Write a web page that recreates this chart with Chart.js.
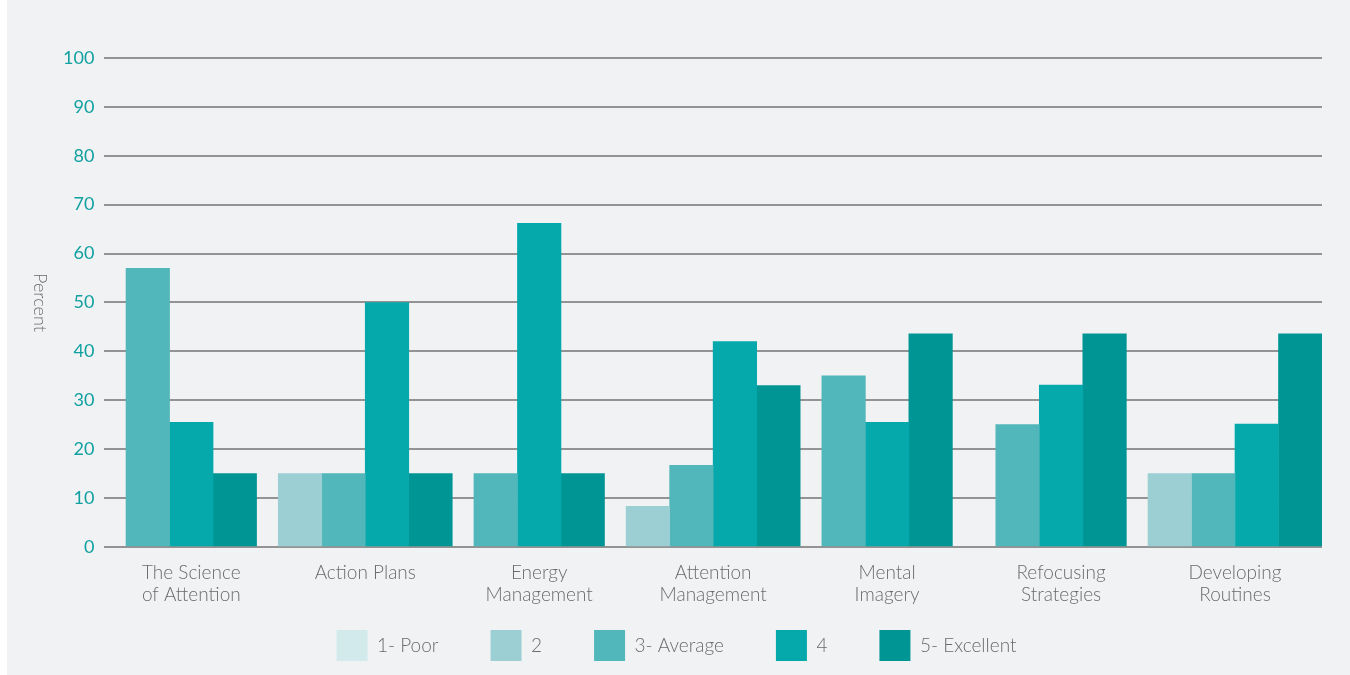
<!DOCTYPE html>
<html>
<head>
<meta charset="utf-8">
<script src="https://cdn.jsdelivr.net/npm/chart.js@4/dist/chart.umd.min.js"></script>
<style>
  html, body { margin: 0; padding: 0; background: #ffffff; }
  #wrap { position: absolute; left: 7px; top: 0; width: 1343px; height: 675px; background: #f1f2f4; }
</style>
</head>
<body>
<div id="wrap"><canvas id="chart"></canvas></div>
<script>
// categories and series (percent of responses, empty = no responses)
const categories = [
    ['The Science', 'of Attention'],
    'Action Plans',
    ['Energy', 'Management'],
    ['Attention', 'Management'],
    ['Mental', 'Imagery'],
    ['Refocusing', 'Strategies'],
    ['Developing', 'Routines']
];
const poor      = [null, null, null, null, null, null, null];
const two       = [null, 15, null, 8.3, null, null, 15];
const average   = [57, 15, 15, 16.7, 35, 25, 15];
const four      = [25.5, 50, 66.2, 42, 25.5, 33.1, 25.1];
const excellent = [15, 15, 15, 33, 43.6, 43.6, 43.6];

const yTicks = [0, 10, 20, 30, 40, 50, 60, 70, 80, 90, 100];

const FONT = 'Lato, "Noto Sans", sans-serif';

// y axis title reads top-to-bottom in the original, so draw it by hand
const yTitlePlugin = {
    id: 'yTitle',
    afterDraw(chart) {
        const c = chart.ctx;
        const area = chart.chartArea;
        c.save();
        c.translate(33, (area.top + area.bottom) / 2);
        c.rotate(Math.PI / 2);
        c.fillStyle = '#6b6b6b';
        c.font = '300 18px ' + FONT;
        c.textAlign = 'center';
        c.textBaseline = 'middle';
        c.fillText('Percent', 0, 0);
        c.restore();
    }
};

// legend needs wide horizontal gaps but little vertical room:
// shrink its box and draw the items shifted back up by the same amount
const LEGEND_SHRINK = 35;
const LEGEND_SHIFT_X = -11;
const legendTweak = {
    id: 'legendTweak',
    afterInit(chart) {
        const lg = chart.legend;
        if (!lg || lg._tweaked) return;
        lg._tweaked = true;
        const fit = lg.fit;
        lg.fit = function () {
            fit.call(this);
            this.height -= LEGEND_SHRINK;
        };
        const draw = lg._draw;
        lg._draw = function () {
            const c = this.ctx;
            c.save();
            c.translate(LEGEND_SHIFT_X, -LEGEND_SHRINK);
            draw.call(this);
            c.restore();
        };
    }
};

const ds = (label, data, color) => ({
    label: label,
    data: data,
    backgroundColor: color,
    borderWidth: 0,
    skipNull: true,
    barThickness: 43.5
});

new Chart(document.getElementById('chart'), {
    type: 'bar',
    data: {
        labels: categories,
        datasets: [
            ds('1- Poor', poor, '#d3eaec'),
            ds('2', two, '#9ccfd4'),
            ds('3- Average', average, '#51b7ba'),
            ds('4', four, '#05a8ab'),
            ds('5- Excellent', excellent, '#009595')
        ]
    },
    options: {
        responsive: true,
        maintainAspectRatio: false,
        animation: false,
        layout: { padding: { left: 46, right: 28, top: 58, bottom: 4 } },
        plugins: {
            tooltip: { enabled: false },
            legend: {
                position: 'bottom',
                labels: {
                    boxWidth: 31,
                    boxHeight: 31,
                    padding: 52,
                    color: '#6b6b6b',
                    font: { family: FONT, size: 19, weight: '300' }
                }
            }
        },
        scales: {
            x: {
                grid: { display: false },
                border: { display: false },
                ticks: {
                    color: '#6b6b6b',
                    padding: 7,
                    maxRotation: 0,
                    font: { family: FONT, size: 19, weight: '300', lineHeight: 1.16 }
                }
            },
            y: {
                min: 0,
                max: 100,
                afterBuildTicks(scale) {
                    scale.ticks = yTicks.map(v => ({ value: v }));
                },
                grid: { color: '#939393', lineWidth: 2, drawTicks: false },
                border: { display: false },
                ticks: {
                    color: '#12a0a0',
                    padding: 10,
                    font: { family: FONT, size: 18 }
                }
            }
        }
    },
    plugins: [yTitlePlugin, legendTweak]
});
</script>
</body>
</html>
